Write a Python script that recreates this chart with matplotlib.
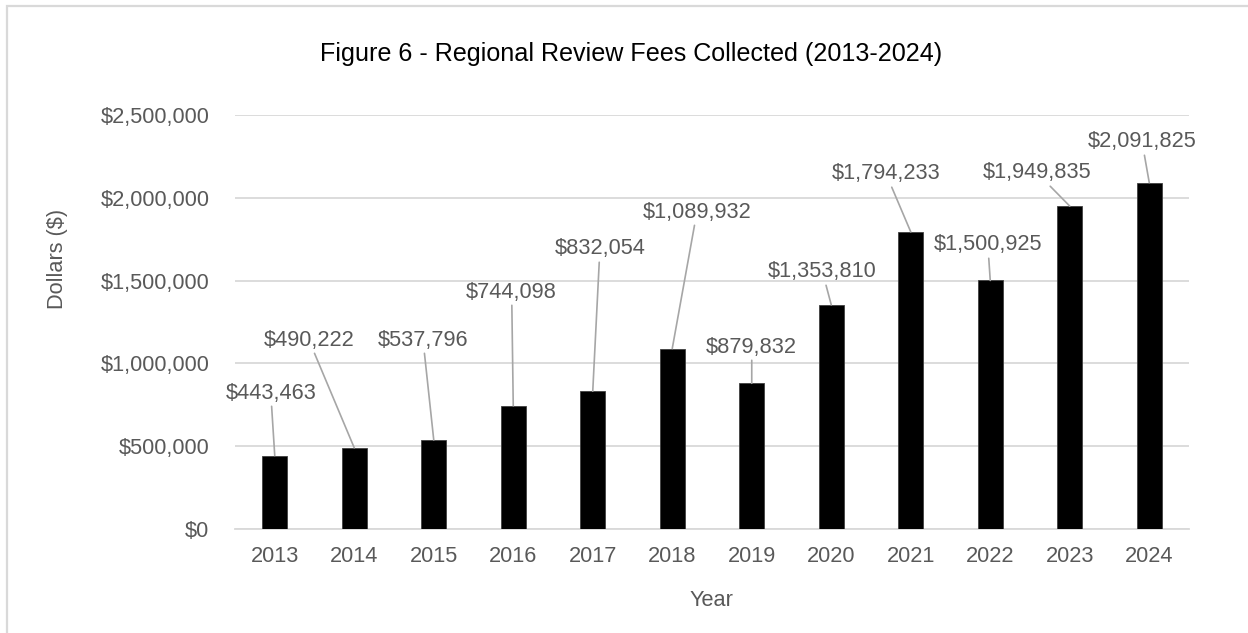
import matplotlib
matplotlib.use("Agg")
import matplotlib.pyplot as plt
from matplotlib.patches import Rectangle
from matplotlib.ticker import FuncFormatter

years = ["2013", "2014", "2015", "2016", "2017", "2018",
         "2019", "2020", "2021", "2022", "2023", "2024"]
fees = [443463, 490222, 537796, 744098, 832054, 1089932,
        879832, 1353810, 1794233, 1500925, 1949835, 2091825]

# where the data labels sit (category offset, dollars)
label_dx = [-0.05, -0.57, -0.135, -0.02, 0.09, 0.31,
            0.0, -0.11, -0.31, -0.03, -0.41, -0.09]
label_y = [821000, 1141000, 1141000, 1431000, 1691000, 1914000,
           1099000, 1552000, 2144000, 1715000, 2150000, 2337000]

plt.rcParams['font.family'] = ['Liberation Sans', 'DejaVu Sans']
grey_txt = '#595959'
grid_col = '#d9d9d9'

fig = plt.figure(figsize=(12.48, 6.33), dpi=100)
ax = fig.add_axes([235 / 1248, 1 - 529 / 633, (1189 - 235) / 1248, (529 - 115) / 633])

x = list(range(len(years)))
ax.bar(x, fees, width=0.31, color='black', edgecolor='#404040', linewidth=0.6, zorder=3)

ax.set_xlim(-0.5, len(years) - 0.5)
ax.set_ylim(0, 2500000)
ax.set_yticks(range(0, 2500001, 500000))
ax.yaxis.set_major_formatter(FuncFormatter(lambda v, p: f"${v:,.0f}"))
ax.set_xticks(x)
ax.set_xticklabels(years)

ax.grid(axis='y', color=grid_col, linewidth=1.3, zorder=0)
for s in ['top', 'right', 'left']:
    ax.spines[s].set_visible(False)
ax.spines['bottom'].set_color(grid_col)
ax.spines['bottom'].set_linewidth(1.3)
ax.tick_params(axis='both', length=0, labelsize=15.7, labelcolor=grey_txt)
ax.tick_params(axis='y', pad=18.5)
ax.tick_params(axis='x', pad=12.5)

for i, v in enumerate(fees):
    ax.annotate(f"${v:,}", xy=(i, v), xytext=(i + label_dx[i], label_y[i]),
                ha='center', va='center', fontsize=15.7, color=grey_txt,
                arrowprops=dict(arrowstyle='-', color='#a6a6a6', lw=1.2,
                                shrinkA=0, shrinkB=0), zorder=4)

fig.text(631 / 1248, 1 - 54 / 633, "Figure 6 - Regional Review Fees Collected (2013-2024)",
         ha='center', va='center', fontsize=18.1, color='black')
fig.text(711 / 1248, 1 - 600 / 633, "Year", ha='center', va='center',
         fontsize=15.7, color=grey_txt)
fig.text(58 / 1248, 1 - 259 / 633, "Dollars ($)", ha='center', va='center',
         rotation=90, fontsize=15.7, color=grey_txt)

# chart area border (runs off the right and bottom of the image)
fig.patches.append(Rectangle((7 / 1248, -0.05), 1.1, 1.05 - 6 / 633,
                             transform=fig.transFigure, fill=False,
                             edgecolor=grid_col, linewidth=1.6))

fig.savefig("out.png", dpi=100)
